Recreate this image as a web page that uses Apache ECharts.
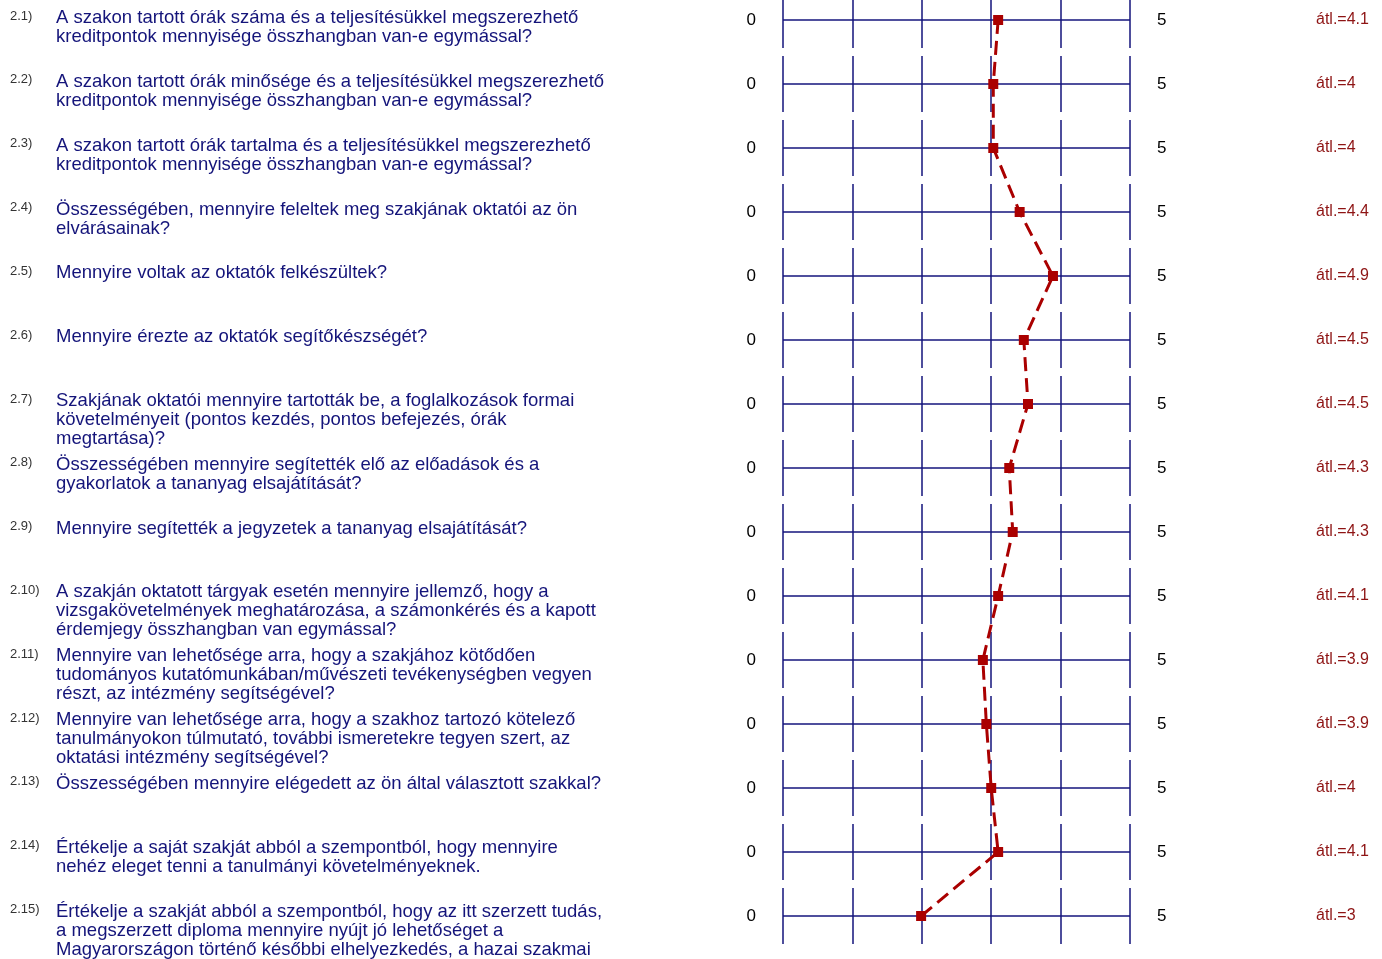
<!DOCTYPE html>
<html>
<head>
<meta charset="utf-8">
<title>Szak értékelés</title>
<script src="https://cdn.jsdelivr.net/npm/echarts@6/dist/echarts.min.js"></script>
<style>
  html, body { margin: 0; padding: 0; background: #fff; }
  #profileChart { width: 1382px; height: 959px; }
</style>
</head>
<body>
<div id="profileChart"></div>
<script>
// question ids, texts and averages, top to bottom
const questionIds = ['2.1)', '2.2)', '2.3)', '2.4)', '2.5)', '2.6)', '2.7)', '2.8)', '2.9)', '2.10)', '2.11)', '2.12)', '2.13)', '2.14)', '2.15)']
const questionTexts = [
  'A szakon tartott órák száma és a teljesítésükkel megszerezhető\nkreditpontok mennyisége összhangban van-e egymással?',
  'A szakon tartott órák minősége és a teljesítésükkel megszerezhető\nkreditpontok mennyisége összhangban van-e egymással?',
  'A szakon tartott órák tartalma és a teljesítésükkel megszerezhető\nkreditpontok mennyisége összhangban van-e egymással?',
  'Összességében, mennyire feleltek meg szakjának oktatói az ön\nelvárásainak?',
  'Mennyire voltak az oktatók felkészültek?',
  'Mennyire érezte az oktatók segítőkészségét?',
  'Szakjának oktatói mennyire tartották be, a foglalkozások formai\nkövetelményeit (pontos kezdés, pontos befejezés, órák\nmegtartása)?',
  'Összességében mennyire segítették elő az előadások és a\ngyakorlatok a tananyag elsajátítását?',
  'Mennyire segítették a jegyzetek a tananyag elsajátítását?',
  'A szakján oktatott tárgyak esetén mennyire jellemző, hogy a\nvizsgakövetelmények meghatározása, a számonkérés és a kapott\nérdemjegy összhangban van egymással?',
  'Mennyire van lehetősége arra, hogy a szakjához kötődően\ntudományos kutatómunkában/művészeti tevékenységben vegyen\nrészt, az intézmény segítségével?',
  'Mennyire van lehetősége arra, hogy a szakhoz tartozó kötelező\ntanulmányokon túlmutató, további ismeretekre tegyen szert, az\noktatási intézmény segítségével?',
  'Összességében mennyire elégedett az ön által választott szakkal?',
  'Értékelje a saját szakját abból a szempontból, hogy mennyire\nnehéz eleget tenni a tanulmányi követelményeknek.',
  'Értékelje a szakját abból a szempontból, hogy az itt szerzett tudás,\na megszerzett diploma mennyire nyújt jó lehetőséget a\nMagyarországon történő későbbi elhelyezkedés, a hazai szakmai'
]
// plotted means (scale runs 1..6 on the axis)
const meanValues = [4.10, 4.03, 4.03, 4.41, 4.89, 4.47, 4.53, 4.26, 4.31, 4.10, 3.88, 3.93, 4.00, 4.10, 2.99]
const meanLabels = ['4.1', '4', '4', '4.4', '4.9', '4.5', '4.5', '4.3', '4.3', '4.1', '3.9', '3.9', '4', '4.1', '3']
const scaleLeftLabel = '0'
const scaleRightLabel = '5'

const navy = '#14147c'
const chart = echarts.init(document.getElementById('profileChart'))

const rowAxis = {
  type: 'category',
  data: questionIds,
  inverse: true,
  boundaryGap: false,
  axisLine: { show: false },
  axisTick: { show: false },
  splitLine: { show: false }
}
const scaleAxis = {
  type: 'value',
  min: 1,
  max: 6,
  interval: 1,
  axisLine: { show: false },
  axisTick: { show: false },
  axisLabel: { show: false },
  splitLine: { show: false }
}

chart.setOption({
  animation: false,
  textStyle: { fontFamily: '"Liberation Sans", Arial, sans-serif' },
  grid: [
    // rows + line
    { left: 783, width: 347, top: 20, height: 896 },
    // broken vertical scale lines
    { left: 783, width: 347, top: 0, height: 944 },
    // question texts, shifted up a bit
    { left: 783, width: 347, top: 8.5, height: 896 }
  ],
  xAxis: [
    { ...scaleAxis, gridIndex: 0 },
    {
      ...scaleAxis,
      gridIndex: 1,
      splitLine: {
        show: true,
        lineStyle: { color: navy, width: 1.5, type: [56, 8], dashOffset: 8 }
      }
    },
    { ...scaleAxis, gridIndex: 2 }
  ],
  yAxis: [
    {
      ...rowAxis,
      gridIndex: 0,
      position: 'left',
      splitLine: { show: true, lineStyle: { color: navy, width: 1.5 } },
      axisLabel: {
        interval: 0,
        formatter: () => scaleLeftLabel,
        align: 'right',
        margin: 27,
        color: '#000',
        fontSize: 17
      }
    },
    {
      ...rowAxis,
      gridIndex: 0,
      position: 'right',
      axisLabel: {
        interval: 0,
        formatter: () => scaleRightLabel,
        align: 'left',
        margin: 27,
        color: '#000',
        fontSize: 17
      }
    },
    {
      ...rowAxis,
      gridIndex: 0,
      position: 'right',
      axisLabel: {
        interval: 0,
        formatter: (v, i) => 'átl.=' + meanLabels[i],
        align: 'left',
        margin: 186,
        color: '#8e1414',
        fontSize: 16
      }
    },
    {
      type: 'value',
      gridIndex: 1,
      show: false
    },
    {
      ...rowAxis,
      gridIndex: 2,
      position: 'left',
      axisLabel: {
        interval: 0,
        formatter: (v, i) => questionTexts[i],
        align: 'left',
        verticalAlign: 'top',
        margin: 727,
        color: '#14147a',
        fontSize: 18.5,
        lineHeight: 19
      }
    },
    {
      ...rowAxis,
      gridIndex: 2,
      position: 'left',
      axisLabel: {
        interval: 0,
        align: 'left',
        verticalAlign: 'top',
        margin: 773,
        color: '#333',
        fontSize: 13,
        lineHeight: 15
      }
    }
  ],
  series: [
    {
      type: 'line',
      xAxisIndex: 0,
      yAxisIndex: 0,
      data: meanValues.map((v, i) => [v, questionIds[i]]),
      symbol: 'rect',
      symbolSize: 10,
      itemStyle: { color: '#aa0000' },
      lineStyle: { color: '#aa0000', width: 3, type: [14, 7] },
      z: 5
    }
  ]
})
</script>
</body>
</html>
